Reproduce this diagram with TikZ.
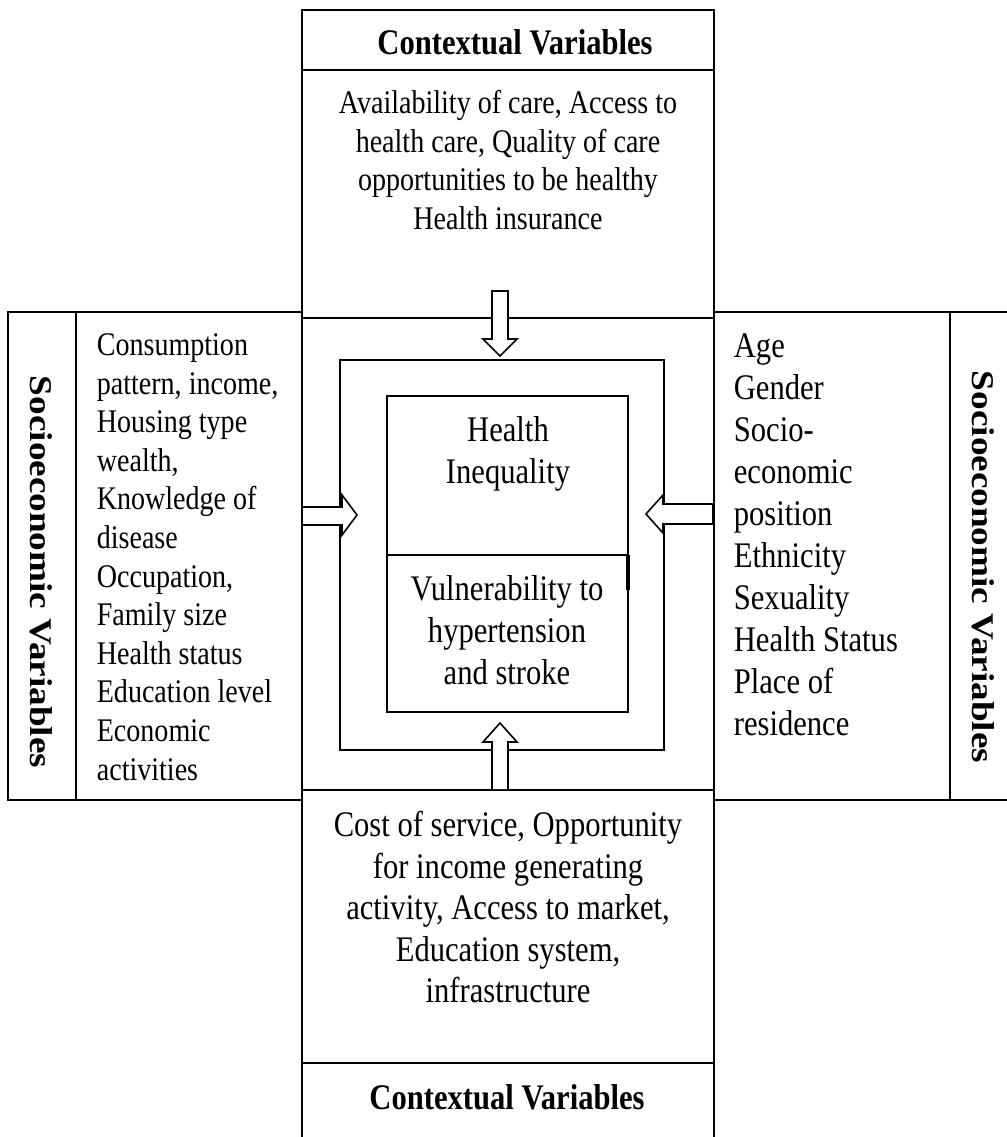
\documentclass[tikz,border=0pt]{standalone}
\usepackage{fontspec}
\setmainfont{Liberation Serif}
\begin{document}
\begin{tikzpicture}[x=1pt,y=-1pt,line width=2pt,
  sm/.style={inner sep=0pt, xscale=0.85, font=\fontsize{33}{38.6}\selectfont},
  bg/.style={inner sep=0pt, xscale=0.85, font=\fontsize{36}{42}\selectfont},
  ttl/.style={inner sep=0pt, xscale=0.85, font=\fontsize{36}{42}\selectfont\bfseries},
  vttl/.style={inner sep=0pt, xscale=0.85, rotate=-90, font=\fontsize{37.2}{42}\selectfont\bfseries},
  blockarrow/.style={draw, fill=white, line width=1.6pt, line join=miter}]
\useasboundingbox (0,0) rectangle (1006,1137);
% top box
\draw (302,10) rectangle (714,318);
\draw (302,70) -- (714,70);
% left box
\draw (8,312) rectangle (302,800);
\draw (76,312) -- (76,800);
% right box
\draw (714,312) rectangle (1012,800);
\draw (950,312) -- (950,800);
% bottom box
\draw (302,790) rectangle (714,1142);
\draw (302,1063) -- (714,1063);
% middle frame
\draw (340,360) rectangle (664,750);
% inner box
\draw (387,396) rectangle (628,712);
\draw (387,555) -- (628,555);
\draw[line width=3.5pt] (628,555) -- (628,590);
% block arrows
\draw[blockarrow] (492,291) -- (508,291) -- (508,339) -- (517,339) -- (500,356) -- (483,339) -- (492,339) -- cycle;
\draw[blockarrow] (302,507) -- (342,507) -- (342,495) -- (357,515) -- (342,535) -- (342,525) -- (302,525) -- cycle;
\draw[blockarrow] (713,504) -- (663,504) -- (663,495) -- (646,514) -- (663,533) -- (663,524) -- (713,524) -- cycle;
\draw[blockarrow] (492,789) -- (492,742) -- (483,742) -- (500,723) -- (517,742) -- (508,742) -- (508,789);
% texts
\node[ttl, anchor=base] (toptitle) at (515,55) {Contextual Variables};
\node[ttl, anchor=base] (bottitle) at (507,1109) {Contextual Variables};
\node[vttl] (lefttitle) at (41,572) {Socioeconomic Variables};
\node[vttl] (righttitle) at (983,567) {Socioeconomic Variables};
\node[sm, align=center] (toptext) at (508,160) {Availability of care, Access to\\health care, Quality of care\\opportunities to be healthy\\Health insurance};
\node[sm, align=left, anchor=west] (lefttext) at (96,557) {Consumption\\pattern, income,\\Housing type\\wealth,\\Knowledge of\\disease\\Occupation,\\Family size\\Health status\\Education level\\Economic\\activities};
\node[bg, align=left, anchor=west] (righttext) at (733,535) {Age\\Gender\\Socio-\\economic\\position\\Ethnicity\\Sexuality\\Health Status\\Place of\\residence};
\node[bg, align=center] (ineq) at (508,454) {Health\\Inequality};
\node[bg, align=center] (vuln) at (507,630) {Vulnerability to\\hypertension\\and stroke};
\node[bg, align=center, font=\fontsize{36}{41.5}\selectfont] (bottext) at (508,907) {Cost of service, Opportunity\\for income generating\\activity, Access to market,\\Education system,\\infrastructure};
\end{tikzpicture}
\end{document}
